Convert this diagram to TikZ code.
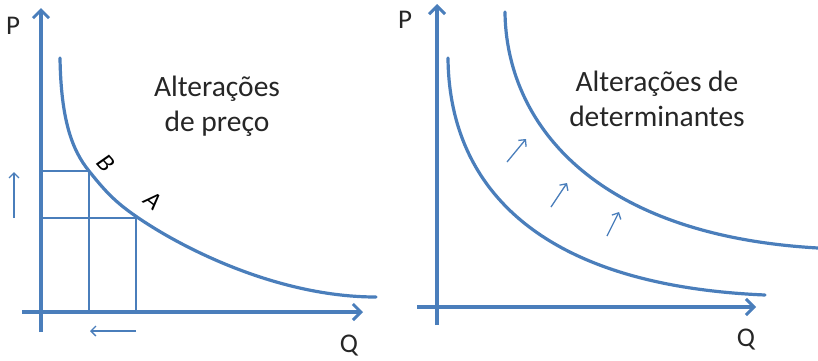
\documentclass[tikz,border=0pt]{standalone}
\usepackage{fontspec}
\setmainfont{Carlito}
\usetikzlibrary{arrows.meta}
\definecolor{ob}{HTML}{4A7EBB}
\begin{document}
\begin{tikzpicture}[x=1pt,y=-1pt,
  axis/.style={ob,line width=3.2pt,-{Straight Barb[length=8pt,width=16pt,line width=3pt]}},
  curve/.style={ob,line width=3.2pt,line cap=round},
  thin/.style={ob,line width=1.2pt},
  small/.style={ob,line width=1.3pt,-{Straight Barb[length=5pt,width=10pt,line width=1.3pt]}},
  lbl/.style={font=\fontsize{27}{30}\selectfont,black!85,inner sep=0pt},
  title/.style={font=\fontsize{29.5}{35}\selectfont,align=center,inner sep=0pt,black!85},
  pt/.style={font=\itshape\fontsize{25}{28}\selectfont,black,inner sep=0pt}]
\useasboundingbox (0,0) rectangle (818,360);
% left panel
\coordinate (ly0) at (41,332); \coordinate (ly1) at (41,8);
\coordinate (lx0) at (22,312); \coordinate (lx1) at (363,312);
\draw[thin] (41,171) -- (89,171) -- (89,312);
\draw[thin] (41,218) -- (136,218) -- (136,312);
\draw[axis] (ly0) -- (ly1);
\draw[axis] (lx0) -- (lx1);
\node[lbl] (lp) at (13,26) {P};
\node[lbl] (lq) at (349,346) {Q};
\coordinate (c0) at (60,58); \coordinate (cB) at (89,171);
\coordinate (cA) at (137,217); \coordinate (c1) at (376,297);
\draw[curve] (c0) .. controls (61,120) and (72,150) .. (cB)
  .. controls (105,191) and (115,202) .. (cA)
  .. controls (185,250) and (280,297) .. (c1);
\node[pt,rotate=-48] (B) at (106,163) {B};
\node[pt,rotate=-38] (A) at (153,201) {A};
\coordinate (ua0) at (14,218); \coordinate (ua1) at (14,172);
\draw[small] (ua0) -- (ua1);
\coordinate (la0) at (136,331); \coordinate (la1) at (90,331);
\draw[small] (la0) -- (la1);
\node[title] (t1) at (217,106) {Alterações\\de preço};
% right panel
\coordinate (ry0) at (437,325); \coordinate (ry1) at (437,4);
\coordinate (rx0) at (417,307); \coordinate (rx1) at (756,307);
\draw[axis] (ry0) -- (ry1);
\draw[axis] (rx0) -- (rx1);
\node[lbl] (rp) at (405,20) {P};
\node[lbl] (rq) at (746,340) {Q};
\coordinate (d1s) at (448,58); \coordinate (d1e) at (765,295);
\coordinate (d2s) at (505,12); \coordinate (d2e) at (818,248);
\draw[curve] (d1s) .. controls (449,180) and (530,285) .. (d1e);
\draw[curve] (d2s) .. controls (506,120) and (590,235) .. (d2e);
\coordinate (a1s) at (507,162); \coordinate (a1e) at (526,139);
\coordinate (a2s) at (551,207); \coordinate (a2e) at (567,183);
\coordinate (a3s) at (607,236); \coordinate (a3e) at (619,212);
\draw[small] (a1s) -- (a1e);
\draw[small] (a2s) -- (a2e);
\draw[small] (a3s) -- (a3e);
\node[title] (t2) at (657,99) {Alterações de\\determinantes};
\end{tikzpicture}
\end{document}
